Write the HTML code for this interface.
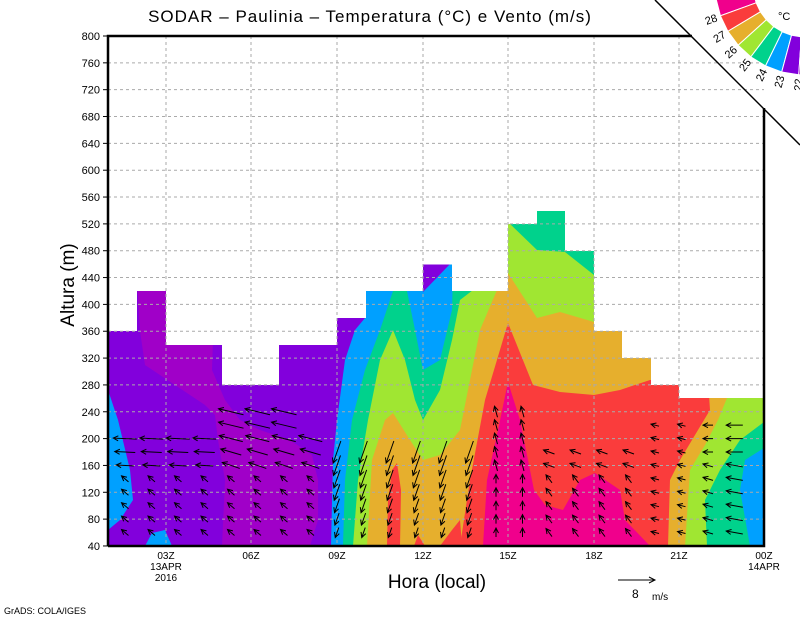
<!DOCTYPE html>
<html><head><meta charset="utf-8"><style>
html,body{margin:0;padding:0;background:#fff;}
svg{display:block;font-family:"Liberation Sans",sans-serif;}
</style></head><body>
<svg id="s" width="800" height="618" viewBox="0 0 800 618" xmlns="http://www.w3.org/2000/svg">
<defs>
<clipPath id="dc"><polygon points="108,546 108,331 137,331 137,291 166,291 166,345 222,345 222,385 279,385 279,345 337,345 337,318 366,318 366,291 423,291 423,264.5 452,264.5 452,291 508,291 508,224 537,224 537,211 565,211 565,251 594,251 594,331 622,331 622,358 651,358 651,385 679,385 679,398 764,398 764,546"/></clipPath>
</defs>
<g clip-path="url(#dc)">
<rect x="100" y="200" width="670" height="350" fill="#8200dc"/>
<polygon fill="#a000c8" points="137,280 215,280 212,370 225,400 240,420 260,430 290,440 312,455 318,480 318,520 310,546 222,546 225,480 218,440 215,415 205,405 175,385 145,365 140,331"/>
<polygon fill="#00a0ff" points="108,390 118,420 130,470 133,500 120,520 108,530"/>
<polygon fill="#00a0ff" points="145,546 152,533 165,530 172,546"/>
<polygon fill="#00a0ff" points="331,546 333,460 337,420 345,360 355,330 365,318 366,200 770,200 770,546"/>
<polygon fill="#8200dc" points="423,262 452,262 423,292"/>
<polygon fill="#00d28c" points="343,546 345,480 352,420 365,370 380,330 393,291 407,280 407,291 415,330 423,370 440,360 452,310 455,200 770,200 770,546"/>
<polygon fill="#a0e632" points="353,546 358,480 368,420 380,360 393,330 405,360 415,400 423,420 440,390 452,340 460,300 473,290 490,276 500,222 508,222 537,250 565,252 594,275 770,275 764,546"/>
<polygon fill="#e6af2d" points="367,546 372,460 385,420 393,413 410,440 423,460 440,455 460,430 470,380 480,330 497,290 508,273 537,318 560,312 594,322 600,300 730,300 727,398 718,420 705,445 690,470 685,546"/>
<polygon fill="#fa3c3c" points="460,546 470,480 485,400 508,323 533,385 560,392 594,395 620,390 650,380 708,380 710,410 680,460 670,480 668,546"/>
<polygon fill="#fa3c3c" points="387,546 388,500 392,470 397,463 401,490 400,546"/>
<polygon fill="#fa3c3c" points="414,546 418,535 425,546"/>
<polygon fill="#fa3c3c" points="440,546 452,530 460,520 462,546"/>
<polygon fill="#f0008c" points="483,546 487,480 498,430 508,382 520,420 534,490 545,505 563,510 580,480 595,473 620,490 625,520 650,546"/>
<polygon fill="#00d28c" points="707,546 705,500 720,470 740,440 764,422 764,546"/>
<polygon fill="#00a0ff" points="750,546 740,490 745,460 764,448 764,546"/>
</g>
<g stroke="#aaa" stroke-width="1" stroke-dasharray="3,3" id="grid"></g>
<g id="arr" stroke="#000" stroke-width="1" fill="none"></g>
<path d="M108,546 L108,36 L692,36 M764,108 L764,546 L108,546" stroke="#000" stroke-width="2.5" fill="none"/>
<line x1="655" y1="0" x2="800" y2="145" stroke="#000" stroke-width="1.5"/>
<g id="ticks" font-size="11" fill="#000"></g>
<text x="370" y="22" font-size="17" letter-spacing="1" text-anchor="middle">SODAR – Paulinia – Temperatura (°C) e Vento (m/s)</text>
<text x="437" y="588" font-size="19" text-anchor="middle">Hora (local)</text>
<text transform="translate(74,285) rotate(-90)" font-size="19" text-anchor="middle">Altura (m)</text>
<text x="4" y="614" font-size="9">GrADS: COLA/IGES</text>
<line x1="618" y1="580" x2="655" y2="580" stroke="#000"/><path d="M649,577 L655,580 L649,583" stroke="#000" fill="none"/>
<text x="632" y="598" font-size="12">8</text><text x="652" y="600" font-size="10">m/s</text>
<g id="cb"></g>
<text x="778" y="20" font-size="11">°C</text>
</svg>
<script>
(function(){
var NS="http://www.w3.org/2000/svg";
function el(p,t,a,txt){var e=document.createElementNS(NS,t);for(var k in a)e.setAttribute(k,a[k]);if(txt!==undefined)e.textContent=txt;document.getElementById(p).appendChild(e);return e;}
function Y(h){return 36+(800-h)*0.671;}
for(var h=80;h<800;h+=40)el("grid","line",{x1:108,x2:764,y1:Y(h),y2:Y(h)});
[166,251,337,423,508,594,679].forEach(function(x){el("grid","line",{x1:x,x2:x,y1:36,y2:546});});
for(var h=40;h<=800;h+=40){el("ticks","text",{x:100,y:Y(h)+4,"text-anchor":"end"},h);el("ticks","line",{x1:103,x2:108,y1:Y(h),y2:Y(h),stroke:"#000"});}
var lab=["03Z","06Z","09Z","12Z","15Z","18Z","21Z","00Z"];
[166,251,337,423,508,594,679,764].forEach(function(x,i){el("ticks","text",{x:x,y:559,"text-anchor":"middle","font-size":10},lab[i]);});
el("ticks","text",{x:166,y:570,"text-anchor":"middle","font-size":10},"13APR");
el("ticks","text",{x:166,y:581,"text-anchor":"middle","font-size":10},"2016");
el("ticks","text",{x:764,y:570,"text-anchor":"middle","font-size":10},"14APR");
var cols=["#f0008c","#fa3c3c","#e6af2d","#a0e632","#00d28c","#00a0ff","#8200dc","#a000c8"];
var cx=805,cy=-15,r1=52,r2=90;
function P(r,a){a=a*Math.PI/180;return [cx+r*Math.cos(a),cy+r*Math.sin(a)];}
for(var i=0;i<8;i++){var a0=171-11*i,a1=a0-11;var p=[P(r1,a0),P(r2,a0),P(r2,a1),P(r1,a1)];
el("cb","polygon",{points:p.map(function(q){return q.join(",")}).join(" "),fill:cols[i],stroke:"#fff","stroke-width":1});}
["28","27","26","25","24","23","22"].forEach(function(t,i){var a=160-11*i;var q=P(100,a);
el("cb","text",{x:q[0],y:q[1]+4,"font-size":11,"text-anchor":"middle",transform:"rotate("+(a-180)+" "+q[0]+" "+q[1]+")"},t);});
function wind(x,hgt){
 if(x<330){ if(hgt>150) return [-(16+Math.min(hgt-150,60)*0.15),(x>220?-6:-1)]; return [-7,-6];}
 if(x<480){var L=Math.min(24,10+(hgt-60)*0.1); return [-L*0.35,L];}
 if(x<525){ return hgt>140?[-3,-11]:[0,-9];}
 if(x<650){ return hgt>140?[-11,-4]:[-6,-8];}
 if(x<700) return [-8,-2];
 return [-(8+(x-700)*0.25),hgt>170?0:-3];}
function topH(x){if(x<330)return (x>210&&x<300)?240:200; if(x<480)return 180; if(x<525)return 240; if(x<650)return 180; return 220;}
for(var x=125;x<760;x+=26.5){for(var h=60;h<=240;h+=20){if(h>topH(x))continue;var y=Y(h);
 var w=wind(x,h);var tx=x-w[0]/2,ty=y-w[1]/2,hx=x+w[0]/2,hy=y+w[1]/2;
 var L=Math.hypot(w[0],w[1])||1,ux=w[0]/L,uy=w[1]/L,b=5;
 el("arr","path",{d:"M"+tx+","+ty+"L"+hx+","+hy+"M"+(hx-b*ux+b*0.5*uy)+","+(hy-b*uy-b*0.5*ux)+"L"+hx+","+hy+"L"+(hx-b*ux-b*0.5*uy)+","+(hy-b*uy+b*0.5*ux)});}}
})();
</script>
</body></html>
